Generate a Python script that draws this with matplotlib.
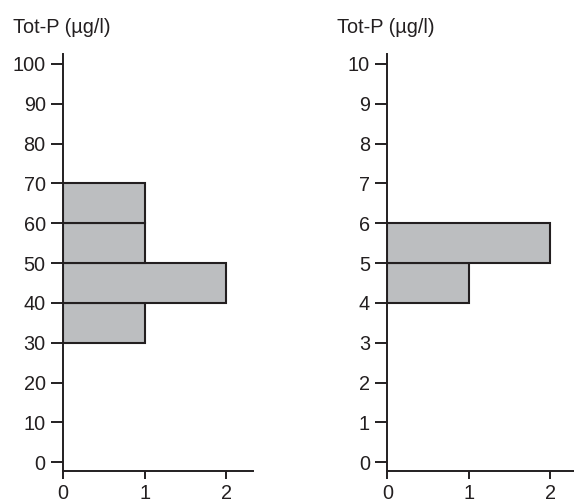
import matplotlib.pyplot as plt

plt.rcParams["font.family"] = ["Liberation Sans", "DejaVu Sans"]

# left panel: Tot-P histogram, 10 ug/l bins
left_bins = [30, 40, 50, 60]
left_counts = [1, 2, 1, 1]
left_width = 10
left_yticks = [0, 10, 20, 30, 40, 50, 60, 70, 80, 90, 100]

# right panel: 1 ug/l bins
right_bins = [4, 5]
right_counts = [1, 2]
right_width = 1
right_yticks = [0, 1, 2, 3, 4, 5, 6, 7, 8, 9, 10]

xticks = [0, 1, 2]
title = "Tot-P (µg/l)"

fill = "#bcbec0"
dark = "#231f20"

fig = plt.figure(figsize=(5.74, 5.0), dpi=100)
ax1 = fig.add_axes([0.1098, 0.058, 0.331, 0.834])
ax2 = fig.add_axes([0.6748, 0.058, 0.331, 0.834])


def style(ax, bins, counts, width, yticks):
    ax.barh(bins, counts, height=width, align="edge", color=fill,
            edgecolor=dark, linewidth=1.5, zorder=2)
    top = yticks[-1]
    ax.set_ylim(-0.022 * top, 1.025 * top)
    ax.set_xlim(0, 2.33)
    ax.set_yticks(yticks)
    ax.set_xticks(xticks)
    for s in ["top", "right"]:
        ax.spines[s].set_visible(False)
    for s in ["left", "bottom"]:
        ax.spines[s].set_linewidth(1.4)
        ax.spines[s].set_color(dark)
        ax.spines[s].set_zorder(3)
    ax.tick_params(axis="y", direction="out", length=8.5, width=1.4,
                   color=dark, pad=4, labelsize=14.3, labelcolor=dark)
    ax.tick_params(axis="x", direction="out", length=6, width=1.4,
                   color=dark, pad=3.5, labelsize=14.3, labelcolor=dark)


style(ax1, left_bins, left_counts, left_width, left_yticks)
style(ax2, right_bins, right_counts, right_width, right_yticks)

fig.text(13 / 574, 1 - 33 / 500, title, fontsize=14.3, color=dark, va="baseline")
fig.text(337 / 574, 1 - 33 / 500, title, fontsize=14.3, color=dark, va="baseline")

fig.savefig("out.png", dpi=100)
